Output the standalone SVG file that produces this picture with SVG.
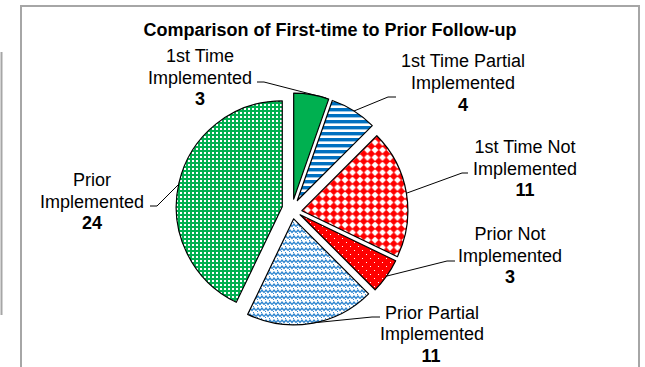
<svg xmlns="http://www.w3.org/2000/svg" width="645" height="367" viewBox="0 0 645 367">
<style>
.t{font-family:"Liberation Sans",Arial,sans-serif;font-size:18px;fill:#000;text-anchor:middle}
.b{font-weight:bold}
.s{stroke:#000;stroke-width:1.2;stroke-linejoin:round}
.ld{fill:none;stroke:#000;stroke-width:1}
.fr{fill:none;stroke:#A6A6A6;stroke-width:2}
</style>
<defs>
<pattern id="pStripe" patternUnits="userSpaceOnUse" x="0" y="0" width="8" height="6">
<rect width="8" height="6" fill="#fff"/>
<rect y="0" width="8" height="3.4" fill="#0070C0"/>
</pattern>
<pattern id="pDiamond" patternUnits="userSpaceOnUse" x="0" y="0" width="7.5" height="7.5">
<rect width="7.5" height="7.5" fill="#fff"/>
<polygon points="3.75,-0.3 7.8,3.75 3.75,7.8 -0.3,3.75" fill="#FF0000"/>
</pattern>
<pattern id="pDots" patternUnits="userSpaceOnUse" x="0" y="0" width="8" height="8">
<rect width="8" height="8" fill="#FF0000"/>
<rect x="2" y="2" width="1" height="1" fill="#fff"/>
<rect x="6" y="6" width="1" height="1" fill="#fff"/>
</pattern>
<pattern id="pWeave" patternUnits="userSpaceOnUse" x="0" y="0" width="8" height="6">
<rect width="8" height="6" fill="#fff"/>
<path d="M0,4.5 L2,2 L4,4.5 L6,2 L8,4.5" fill="none" stroke="#2E86D0" stroke-width="1.4"/>
<rect x="1" y="5" width="1" height="1" fill="#2E86D0"/>
<rect x="5" y="0" width="1" height="1" fill="#2E86D0"/>
</pattern>
<pattern id="pCheck" patternUnits="userSpaceOnUse" x="0" y="0" width="4" height="4">
<rect width="4" height="4" fill="#00B050"/>
<rect x="0" y="0" width="2" height="2" fill="#fff"/>
</pattern>
</defs>
<rect x="0" y="0" width="645" height="367" fill="#fff"/>
<line class="fr" x1="1.5" y1="52" x2="1.5" y2="315"/>
<rect class="fr" x="21" y="6" width="618" height="380" fill="#fff"/>
<text class="t b" x="330" y="36">Comparison of First-time to Prior Follow-up</text>
<g id="connectors">
<polyline class="ld" points="257,82 264,82 326,98"/>
<polyline class="ld" points="396,97 388,97 354,111"/>
<polyline class="ld" points="468,173 462,173 407,193"/>
<polyline class="ld" points="455,261 447,261 387,276"/>
<polyline class="ld" points="380,317 372,317 312,323"/>
<polyline class="ld" points="150,206 157,206 179,184"/>
</g>
<g id="slice-1st-time-implemented">
<path class="s" fill="#00B050" d="M293.68,199.14 L293.68,93.14 A106,106 0 0 1 328.69,99.09 Z"/>
</g>
<g id="slice-1st-time-partial">
<path class="s" fill="url(#pStripe)" d="M297.32,200.53 L332.33,100.48 A106,106 0 0 1 372.27,125.58 Z"/>
</g>
<g id="slice-1st-time-not">
<path class="s" fill="url(#pDiamond)" d="M301.86,210.68 L376.81,135.73 A106,106 0 0 1 397.37,256.67 Z"/>
</g>
<g id="slice-prior-not">
<path class="s" fill="url(#pDots)" d="M300.16,214.79 L395.67,260.78 A106,106 0 0 1 375.11,289.74 Z"/>
</g>
<g id="slice-prior-partial">
<path class="s" fill="url(#pWeave)" d="M293.68,218.86 L368.63,293.81 A106,106 0 0 1 247.69,314.37 Z"/>
</g>
<g id="slice-prior-implemented">
<path class="s" fill="url(#pCheck)" d="M282.25,206.78 L236.26,302.29 A106,106 0 0 1 282.25,100.78 Z"/>
</g>
<g id="label-1st-time-implemented">
<text class="t" x="200" y="61.5">1st Time</text>
<text class="t" x="200" y="83.5">Implemented</text>
<text class="t b" x="200" y="105">3</text>
</g>
<g id="label-1st-time-partial">
<text class="t" x="463" y="67">1st Time Partial</text>
<text class="t" x="463" y="89">Implemented</text>
<text class="t b" x="463" y="111">4</text>
</g>
<g id="label-1st-time-not">
<text class="t" x="525" y="152.5">1st Time Not</text>
<text class="t" x="525" y="174.5">Implemented</text>
<text class="t b" x="525" y="196">11</text>
</g>
<g id="label-prior-not">
<text class="t" x="510" y="239.5">Prior Not</text>
<text class="t" x="510" y="261.5">Implemented</text>
<text class="t b" x="510" y="283">3</text>
</g>
<g id="label-prior-partial">
<text class="t" x="432" y="318.5">Prior Partial</text>
<text class="t" x="432" y="340">Implemented</text>
<text class="t b" x="431" y="362">11</text>
</g>
<g id="label-prior-implemented">
<text class="t" x="92" y="185.5">Prior</text>
<text class="t" x="92" y="207.5">Implemented</text>
<text class="t b" x="92" y="229">24</text>
</g>
</svg>
